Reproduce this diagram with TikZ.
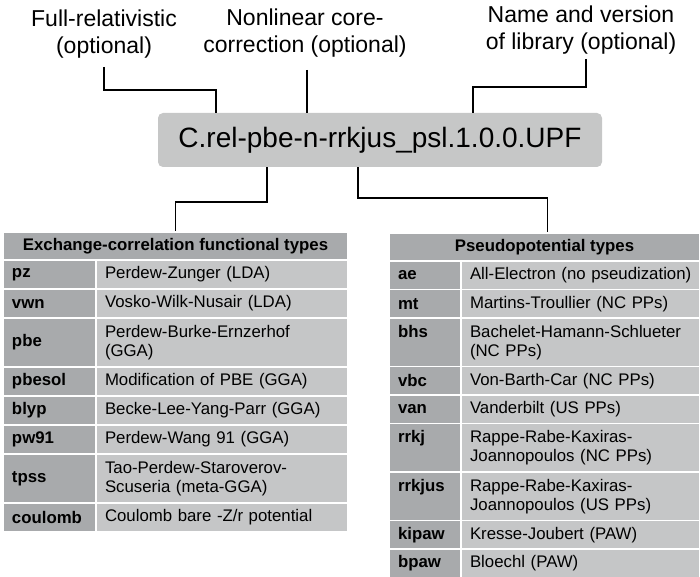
\documentclass[tikz,border=0pt]{standalone}
\usepackage{fontspec}
\setmainfont{Liberation Sans}
\definecolor{keygray}{HTML}{A8AAAC}
\definecolor{valgray}{HTML}{C5C6C7}
\definecolor{boxgray}{HTML}{C6C7C7}
\newcommand\labfont{\fontsize{23}{27}\selectfont}
\newcommand\boxfont{\fontsize{28}{32}\selectfont}
\newcommand\tabfont{\fontsize{16.8}{19}\selectfont}

\begin{document}
\begin{tikzpicture}[
    x=1pt, y=1pt,
    lab/.style={align=center, font=\labfont, inner sep=0pt},
    wire/.style={draw=black, line width=1.5pt},
    cell/.style={draw=white, line width=1.5pt, inner xsep=9pt, inner ysep=0pt, align=left, minimum height=29pt},
    tall/.style={minimum height=49pt},
    key/.style={cell, fill=keygray, font=\tabfont\bfseries},
    val/.style={cell, fill=valgray, font=\tabfont},
    head/.style={cell, fill=keygray, font=\tabfont\bfseries, align=center, minimum height=28pt},
    xkey/.style={key, text width=75pt},
    xval/.style={val, text width=234pt},
    pkey/.style={key, text width=54pt, minimum height=28.5pt},
    pval/.style={val, text width=221pt, minimum height=28.5pt},
    ptall/.style={minimum height=48.5pt},
  ]
    \useasboundingbox (0,0) rectangle (700,-577);
    % Top labels
    \node[lab] (lrel) at (104,-34) {Full-relativistic\\(optional)};
    \node[lab] (lnlcc) at (305,-33) {Nonlinear core-\\correction (optional)};
    \node[lab] (llib) at (581,-30) {Name and version\\of library (optional)};
    \coordinate (relend) at (104,-67);
    \coordinate (nlccend) at (307,-70);
    \coordinate (libend) at (586,-59);
    % File name
    \node[fill=boxgray, rounded corners=5pt, minimum width=444pt, minimum height=54pt, inner sep=0pt, font=\boxfont] (fname) at (380,-140) {C.rel-pbe-n-rrkjus\_psl.1.0.0.UPF};

    % Exchange-correlation table
    \node[head, minimum width=345pt] (xchead) at (175.5,-246) {Exchange-correlation functional types};
    \node[xkey] (xpz) at (49.5,-274.5) {pz};
    \node[xval] (xpzd) at (222,-274.5) {Perdew-Zunger (LDA)};
    \node[xkey] (xvwn) at (49.5,-303.5) {vwn};
    \node[xval] (xvwnd) at (222,-303.5) {Vosko-Wilk-Nusair (LDA)};
    \node[xkey, tall] (xpbe) at (49.5,-342.5) {pbe};
    \node[xval, tall] (xpbed) at (222,-342.5) {Perdew-Burke-Ernzerhof\\(GGA)};
    \node[xkey] (xpbesol) at (49.5,-381.5) {pbesol};
    \node[xval] (xpbesold) at (222,-381.5) {Modification of PBE (GGA)};
    \node[xkey] (xblyp) at (49.5,-410.5) {blyp};
    \node[xval] (xblypd) at (222,-410.5) {Becke-Lee-Yang-Parr (GGA)};
    \node[xkey] (xpw) at (49.5,-439.5) {pw91};
    \node[xval] (xpwd) at (222,-439.5) {Perdew-Wang 91 (GGA)};
    \node[xkey, tall] (xtpss) at (49.5,-478.5) {tpss};
    \node[xval, tall] (xtpssd) at (222,-478.5) {Tao-Perdew-Staroverov-\\Scuseria (meta-GGA)};
    \node[xkey] (xcoul) at (49.5,-517.5) {coulomb};
    \node[xval] (xcould) at (222,-517.5) {Coulomb bare -Z/r potential};

    % Pseudopotential table
    \node[head, minimum width=311pt] (pphead) at (544.5,-247) {Pseudopotential types};
    \node[pkey] (pae) at (425,-275.25) {ae};
    \node[pval] (paed) at (580.5,-275.25) {\mbox{All-Electron (no pseudization)}};
    \node[pkey] (pmt) at (425,-303.75) {mt};
    \node[pval] (pmtd) at (580.5,-303.75) {Martins-Troullier (NC PPs)};
    \node[pkey, ptall] (pbhs) at (425,-342.25) {bhs\\\phantom{(}};
    \node[pval, ptall] (pbhsd) at (580.5,-342.25) {Bachelet-Hamann-Schlueter\\(NC PPs)};
    \node[pkey] (pvbc) at (425,-380.75) {vbc};
    \node[pval] (pvbcd) at (580.5,-380.75) {Von-Barth-Car (NC PPs)};
    \node[pkey] (pvan) at (425,-409.25) {van};
    \node[pval] (pvand) at (580.5,-409.25) {Vanderbilt (US PPs)};
    \node[pkey, ptall] (prrkj) at (425,-447.75) {rrkj\\\phantom{(}};
    \node[pval, ptall] (prrkjd) at (580.5,-447.75) {Rappe-Rabe-Kaxiras-\\Joannopoulos (NC PPs)};
    \node[pkey, ptall] (prrkjus) at (425,-496.25) {rrkjus\\\phantom{(}};
    \node[pval, ptall] (prrkjusd) at (580.5,-496.25) {Rappe-Rabe-Kaxiras-\\Joannopoulos (US PPs)};
    \node[pkey] (pki) at (425,-534.75) {kipaw};
    \node[pval] (pkid) at (580.5,-534.75) {Kresse-Joubert (PAW)};
    \node[pkey] (pbl) at (425,-563.25) {bpaw};
    \node[pval] (pbld) at (580.5,-563.25) {Bloechl (PAW)};

    % Connectors
    \draw[wire] (relend) -- ++(0,-23) -| ([xshift=58pt]fname.north west);
    \draw[wire] (nlccend) -- (nlccend |- fname.north);
    \draw[wire] (libend) -- ++(0,-28) -| ([xshift=315pt]fname.north west);
    \draw[wire] ([xshift=109pt]fname.south west) -- ++(0,-35) -| (xchead.north);
    \draw[wire] ([xshift=200pt]fname.south west) -- ++(0,-31) -| ([xshift=3pt]pphead.north);
\end{tikzpicture}
\end{document}
